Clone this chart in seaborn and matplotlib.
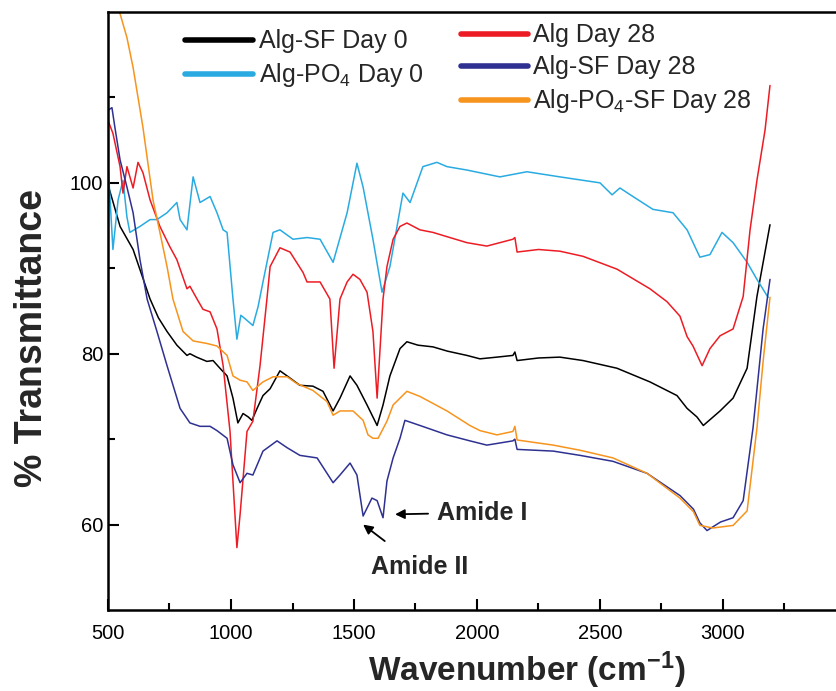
import matplotlib
matplotlib.use("Agg")
import matplotlib.pyplot as plt
from matplotlib.lines import Line2D
import seaborn as sns

# FTIR spectra (wavenumber in cm-1, % transmittance)
black_x = [500, 549, 602, 640, 671, 705, 740, 780, 821, 833, 860, 902, 927, 955, 984, 1008, 1028, 1049, 1070,
           1085, 1106, 1130, 1159, 1199, 1228, 1280, 1333, 1374, 1415, 1443, 1484, 1512, 1553, 1594, 1618, 1646,
           1687, 1715, 1760, 1821, 1880, 1959, 2012, 2081, 2146, 2154, 2163, 2250, 2337, 2431, 2569, 2703, 2813,
           2854, 2894, 2920, 2988, 3041, 3098, 3138, 3191]
black_y = [99.8, 94.9, 92.2, 89.0, 86.4, 84.2, 82.6, 81.0, 79.8, 80.0, 79.6, 79.1, 79.2, 78.3, 77.4, 74.8, 71.9,
           73.0, 72.6, 72.2, 73.6, 75.1, 75.9, 78.0, 77.4, 76.3, 76.2, 75.6, 73.3, 74.8, 77.4, 76.3, 74.0, 71.6,
           74.0, 77.4, 80.6, 81.4, 81.0, 80.8, 80.3, 79.8, 79.4, 79.6, 79.8, 80.2, 79.2, 79.5, 79.6, 79.2, 78.3,
           76.7, 75.1, 73.6, 72.6, 71.6, 73.3, 74.8, 78.3, 86.7, 95.1]

cyan_x = [500, 520, 541, 561, 577, 589, 630, 671, 699, 740, 780, 793, 821, 846, 874, 915, 943, 968, 984, 1008,
          1024, 1040, 1057, 1089, 1110, 1130, 1171, 1199, 1252, 1310, 1362, 1415, 1472, 1512, 1537, 1577, 1614,
          1646, 1699, 1728, 1780, 1837, 1878, 1959, 2093, 2203, 2337, 2500, 2549, 2581, 2634, 2715, 2797, 2854,
          2906, 2947, 2996, 3041, 3098, 3138, 3183]
cyan_y = [102.3, 92.2, 98.0, 100.3, 96.0, 94.2, 94.9, 95.7, 95.7, 96.5, 97.7, 95.7, 94.5, 100.7, 97.7, 98.4,
          96.5, 94.5, 94.2, 86.4, 81.7, 84.5, 84.1, 83.3, 85.5, 88.4, 94.2, 94.5, 93.4, 93.6, 93.4, 90.7, 96.5,
          102.3, 99.5, 93.4, 87.2, 90.2, 98.8, 97.7, 101.9, 102.4, 101.9, 101.5, 100.7, 101.3, 100.7, 100.0,
          98.6, 99.4, 98.4, 96.9, 96.5, 94.5, 91.3, 91.6, 94.2, 93.0, 90.7, 88.7, 86.6]

red_x = [500, 520, 549, 561, 577, 602, 622, 642, 671, 711, 750, 780, 821, 833, 862, 886, 915, 943, 968, 996,
         1024, 1037, 1065, 1089, 1118, 1146, 1159, 1199, 1240, 1293, 1309, 1362, 1402, 1419, 1443, 1472, 1496,
         1524, 1553, 1577, 1594, 1618, 1634, 1659, 1687, 1715, 1768, 1821, 1878, 1959, 2040, 2146, 2154, 2163,
         2250, 2337, 2431, 2569, 2703, 2772, 2825, 2854, 2878, 2915, 2947, 2988, 3041, 3082, 3110, 3138, 3171,
         3191]
red_y = [107.3, 105.8, 101.9, 98.8, 101.9, 99.4, 102.4, 101.2, 98.0, 94.9, 92.6, 91.0, 87.6, 87.9, 86.4, 85.2,
         84.9, 82.9, 78.6, 70.9, 57.3, 61.2, 70.9, 72.1, 78.6, 86.4, 90.2, 92.4, 91.9, 89.5, 88.4, 88.4, 86.4,
         78.3, 86.4, 88.4, 89.3, 88.7, 87.2, 82.6, 74.8, 86.4, 90.2, 93.4, 94.9, 95.3, 94.5, 94.2, 93.7, 93.0,
         92.6, 93.4, 93.6, 91.9, 92.2, 92.0, 91.4, 89.9, 87.6, 86.1, 84.4, 82.0, 80.9, 78.6, 80.6, 82.1, 82.9,
         86.7, 94.5, 100.3, 106.2, 111.4]

navy_x = [500, 516, 528, 549, 577, 602, 630, 659, 699, 740, 793, 833, 874, 915, 943, 984, 1008, 1037, 1065,
          1089, 1130, 1187, 1228, 1280, 1350, 1415, 1443, 1484, 1512, 1537, 1573, 1594, 1618, 1634, 1659, 1687,
          1707, 1768, 1878, 1971, 2040, 2146, 2154, 2163, 2310, 2419, 2553, 2691, 2825, 2880, 2906, 2935, 2990,
          3041, 3082, 3122, 3163, 3191]
navy_y = [108.5, 108.8, 106.5, 102.7, 99.5, 96.5, 91.0, 86.4, 82.6, 78.6, 73.6, 71.9, 71.5, 71.5, 71.0, 70.1,
          67.0, 64.9, 66.0, 65.8, 68.6, 69.8, 69.0, 68.1, 67.8, 64.9, 65.8, 67.2, 65.8, 61.0, 63.1, 62.8, 60.8,
          65.1, 67.8, 70.1, 72.2, 71.6, 70.5, 69.8, 69.3, 69.8, 70.0, 68.8, 68.6, 68.1, 67.4, 66.0, 63.4, 61.8,
          60.2, 59.3, 60.3, 60.8, 62.8, 71.3, 82.9, 88.7]

orange_x = [520, 549, 577, 602, 642, 683, 711, 740, 764, 805, 846, 902, 943, 984, 1008, 1037, 1065, 1089, 1130,
            1171, 1228, 1268, 1333, 1390, 1415, 1443, 1496, 1537, 1557, 1577, 1598, 1634, 1659, 1687, 1715, 1768,
            1878, 1971, 2012, 2081, 2146, 2154, 2163, 2310, 2419, 2553, 2691, 2825, 2880, 2906, 2959, 3041, 3098,
            3138, 3163, 3191]
orange_y = [124.0, 119.8, 117.0, 113.5, 106.5, 98.0, 94.2, 90.2, 86.4, 82.6, 81.5, 81.2, 80.9, 79.8, 77.4, 76.9,
            76.7, 75.7, 76.7, 77.3, 77.3, 76.5, 75.7, 74.4, 72.8, 73.3, 73.3, 72.2, 70.5, 70.1, 70.1, 72.1, 74.0,
            74.8, 75.6, 75.0, 73.3, 71.6, 71.0, 70.5, 70.9, 71.5, 69.9, 69.3, 68.7, 67.8, 66.0, 63.1, 61.5, 59.9,
            59.6, 59.9, 61.6, 71.3, 79.1, 86.6]

series = [
    ("Alg-SF Day 0", black_x, black_y, "#000000"),
    ("Alg-PO$_4$ Day 0", cyan_x, cyan_y, "#29abe2"),
    ("Alg Day 28", red_x, red_y, "#ed1c24"),
    ("Alg-SF Day 28", navy_x, navy_y, "#2e3192"),
    ("Alg-PO$_4$-SF Day 28", orange_x, orange_y, "#f7941d"),
]

sns.set_style("ticks")
plt.rcParams["font.family"] = ["Liberation Sans", "DejaVu Sans"]
plt.rcParams["mathtext.fontset"] = "custom"
plt.rcParams["mathtext.rm"] = "Liberation Sans"
plt.rcParams["mathtext.it"] = "Liberation Sans:italic"
plt.rcParams["mathtext.bf"] = "Liberation Sans:bold"

fig = plt.figure(figsize=(8.36, 6.91), dpi=100)
ax = fig.add_axes([108 / 836, 1 - 610 / 691, 738 / 836, 598 / 691])

for name, xs, ys, col in series:
    sns.lineplot(x=xs, y=ys, ax=ax, color=col, linewidth=1.1, sort=False, estimator=None, legend=False)

ax.set_xlim(500, 3500)
ax.set_ylim(50, 120)
ax.set_xticks([500, 1000, 1500, 2000, 2500, 3000])
ax.set_xticks([750, 1250, 1750, 2250, 2750, 3250], minor=True)
ax.set_yticks([60, 80, 100])
ax.set_yticks([70, 90, 110], minor=True)
ax.tick_params(which="both", direction="in", width=1.5, labelsize=14.5, colors="black")
ax.tick_params(which="major", length=8)
ax.tick_params(which="minor", length=5)
ax.tick_params(axis="x", pad=10)
for sp in ax.spines.values():
    sp.set_linewidth(1.8)
    sp.set_color("black")

ax.set_xlabel(r"Wavenumber (cm$^{\mathbf{-1}}$)", fontsize=24, fontweight="bold")
ax.set_ylabel("% Transmittance", fontsize=27, fontweight="bold")
ax.xaxis.set_label_coords(0.568, -0.066)
ax.yaxis.set_label_coords(-0.078, 0.455)

# two-column legend, second column sits a bit higher
handles = [Line2D([], [], color=c, lw=4, solid_capstyle="round") for _, _, _, c in series]
labels = [s[0] for s in series]
leg1 = ax.legend(handles[:2], labels[:2], loc="upper left", bbox_to_anchor=(0.105, 0.971), frameon=False,
                 fontsize=18, handlelength=2.7, handletextpad=0.25, labelspacing=0.32, borderpad=0, borderaxespad=0)
ax.add_artist(leg1)
ax.legend(handles[2:], labels[2:], loc="upper left", bbox_to_anchor=(0.478, 0.981), frameon=False,
          fontsize=18, handlelength=2.7, handletextpad=0.2, labelspacing=0.32, borderpad=0, borderaxespad=0)

ax.annotate("Amide I", xy=(1667, 61.2), xytext=(1837, 61.4), fontsize=18, fontweight="bold",
            va="center", ha="left",
            arrowprops=dict(arrowstyle="-|>", color="black", lw=1.3, shrinkA=4, shrinkB=0, mutation_scale=14))
ax.annotate("Amide II", xy=(1537, 60.0), xytext=(1765, 55.0), fontsize=18, fontweight="bold",
            va="center", ha="center",
            arrowprops=dict(arrowstyle="-|>", color="black", lw=1.3, shrinkA=13, shrinkB=0, mutation_scale=14))

fig.savefig("out.png", dpi=100)
